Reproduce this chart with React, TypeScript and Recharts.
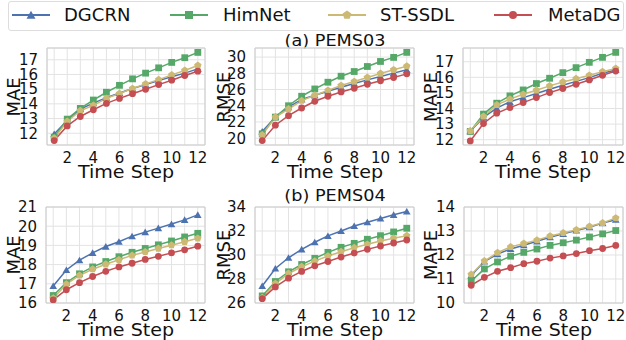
import React from 'react';
import { CartesianGrid, Line, LineChart, ReferenceArea, XAxis, YAxis } from 'recharts';

const steps = [1, 2, 3, 4, 5, 6, 7, 8, 9, 10, 11, 12];
const models = ['DGCRN', 'HimNet', 'ST-SSDL', 'MetaDG'];

// PEMS03
const mae03DGCRN = [11.95, 12.87, 13.64, 14.05, 14.42, 14.74, 15.04, 15.31, 15.58, 15.84, 16.09, 16.38];
const mae03HimNet = [11.73, 12.96, 13.69, 14.26, 14.79, 15.26, 15.7, 16.09, 16.45, 16.82, 17.14, 17.5];
const mae03STSSDL = [11.66, 12.8, 13.53, 13.9, 14.37, 14.7, 15.04, 15.36, 15.65, 15.97, 16.27, 16.61];
const mae03MetaDG = [11.5, 12.5, 13.14, 13.6, 14.03, 14.37, 14.69, 14.99, 15.31, 15.61, 15.93, 16.22];

const rmse03DGCRN = [20.83, 22.6, 23.84, 24.79, 25.29, 25.79, 26.28, 26.74, 27.19, 27.6, 28.02, 28.43];
const rmse03HimNet = [20.54, 22.6, 24.0, 25.17, 26.07, 26.9, 27.64, 28.22, 28.84, 29.46, 29.96, 30.58];
const rmse03STSSDL = [20.4, 22.6, 23.6, 24.63, 25.3, 25.9, 26.49, 26.98, 27.48, 27.98, 28.43, 28.88];
const rmse03MetaDG = [19.7, 21.6, 22.77, 23.72, 24.55, 25.17, 25.7, 26.16, 26.65, 27.07, 27.48, 27.93];

const mape03DGCRN = [12.55, 13.43, 14.02, 14.43, 14.7, 14.96, 15.23, 15.49, 15.74, 15.98, 16.26, 16.47];
const mape03HimNet = [12.53, 13.64, 14.34, 14.81, 15.19, 15.6, 15.94, 16.3, 16.62, 16.96, 17.28, 17.6];
const mape03STSSDL = [12.57, 13.49, 14.23, 14.6, 14.91, 15.17, 15.45, 15.7, 15.91, 16.13, 16.36, 16.57];
const mape03MetaDG = [11.92, 13.04, 13.7, 14.06, 14.38, 14.7, 15.02, 15.28, 15.55, 15.83, 16.13, 16.4];

// PEMS04
const mae04DGCRN = [16.89, 17.72, 18.23, 18.61, 18.94, 19.19, 19.48, 19.69, 19.9, 20.11, 20.33, 20.59];
const mae04HimNet = [16.39, 17.06, 17.52, 17.88, 18.16, 18.41, 18.64, 18.84, 19.03, 19.23, 19.44, 19.63];
const mae04STSSDL = [16.25, 16.98, 17.44, 17.76, 18.02, 18.25, 18.48, 18.66, 18.84, 19.01, 19.19, 19.37];
const mae04MetaDG = [16.16, 16.69, 17.06, 17.38, 17.65, 17.88, 18.07, 18.27, 18.43, 18.61, 18.77, 18.96];

const rmse04DGCRN = [27.42, 28.88, 29.77, 30.47, 31.06, 31.59, 32.0, 32.42, 32.73, 33.04, 33.35, 33.63];
const rmse04HimNet = [26.59, 27.79, 28.6, 29.21, 29.72, 30.22, 30.64, 30.97, 31.31, 31.61, 31.92, 32.23];
const rmse04STSSDL = [26.45, 27.62, 28.46, 29.02, 29.49, 29.91, 30.27, 30.61, 30.89, 31.17, 31.39, 31.61];
const rmse04MetaDG = [26.36, 27.34, 28.07, 28.63, 29.1, 29.46, 29.83, 30.16, 30.47, 30.75, 31.0, 31.25];

const mape04DGCRN = [11.15, 11.73, 12.04, 12.25, 12.41, 12.57, 12.74, 12.88, 13.02, 13.16, 13.33, 13.47];
const mape04HimNet = [10.91, 11.42, 11.71, 11.95, 12.11, 12.25, 12.4, 12.51, 12.62, 12.75, 12.88, 13.02];
const mape04STSSDL = [11.19, 11.75, 12.1, 12.34, 12.48, 12.62, 12.79, 12.92, 13.05, 13.19, 13.34, 13.54];
const mape04MetaDG = [10.74, 11.07, 11.32, 11.47, 11.64, 11.74, 11.87, 11.96, 12.06, 12.18, 12.27, 12.4];

const colors: Record<string, string> = {
  DGCRN: '#4C72B0',
  HimNet: '#55A868',
  'ST-SSDL': '#CCB974',
  MetaDG: '#C44E52',
};
const shapes: Record<string, string> = {
  DGCRN: 'triangle',
  HimNet: 'square',
  'ST-SSDL': 'pentagon',
  MetaDG: 'circle',
};

const FONT = '"DejaVu Sans", sans-serif';
const X_DOMAIN = [0.45, 12.55];

function Marker({ shape, color, cx, cy, r }: { shape: string; color: string; cx: number; cy: number; r: number }) {
  if (shape === 'circle') return <circle cx={cx} cy={cy} r={r} fill={color} />;
  if (shape === 'square') return <rect x={cx - r} y={cy - r} width={r * 2} height={r * 2} fill={color} />;
  const n = shape === 'triangle' ? 3 : 5;
  const rr = shape === 'triangle' ? r * 1.3 : r * 1.15;
  const pts = [];
  for (let i = 0; i < n; i++) {
    const a = -Math.PI / 2 + (i * 2 * Math.PI) / n;
    pts.push(`${cx + rr * Math.cos(a)},${cy + rr * Math.sin(a) + (n === 3 ? rr * 0.2 : 0)}`);
  }
  return <polygon points={pts.join(' ')} fill={color} />;
}

const makeDot = (name: string) => (p: any) => (
  <Marker key={`${name}-${p.index}`} shape={shapes[name]} color={colors[name]} cx={p.cx} cy={p.cy} r={3.4} />
);

// only even steps get a label, grid still on every step
function StepTick(props: any) {
  const { x, y, payload } = props;
  if (payload.value % 2 !== 0) return <g />;
  return (
    <text x={x} y={y} dy="0.71em" textAnchor="middle" fontSize={15} fill="#111" fontFamily={FONT}>
      {payload.value}
    </text>
  );
}

// centred html label, slightly widened like the source figure
function TextLabel({ x, y, size, sx = 1, rotate = false, children }: any) {
  return (
    <div
      style={{
        position: 'absolute',
        left: x,
        top: y,
        transform: rotate
          ? `translate(-50%, -50%) rotate(-90deg) scaleX(${sx})`
          : `translate(-50%, -50%) scaleX(${sx})`,
        fontSize: size,
        lineHeight: `${size}px`,
        fontFamily: FONT,
        color: '#111',
        whiteSpace: 'nowrap',
      }}
    >
      {children}
    </div>
  );
}

type Panel = {
  yLabel: string;
  ticks: number[];
  domain: number[];
  series: number[][];
  left: number;
  top: number;
  w: number;
  h: number;
  labelX: number;
};

const panels: Panel[] = [
  { yLabel: 'MAE', ticks: [12, 13, 14, 15, 16, 17], domain: [11.2, 17.8], series: [mae03DGCRN, mae03HimNet, mae03STSSDL, mae03MetaDG], left: 47, top: 48, w: 158, h: 97, labelX: 14 },
  { yLabel: 'RMSE', ticks: [20, 22, 24, 26, 28, 30], domain: [19.16, 31.12], series: [rmse03DGCRN, rmse03HimNet, rmse03STSSDL, rmse03MetaDG], left: 255, top: 48, w: 159, h: 97, labelX: 224 },
  { yLabel: 'MAPE', ticks: [12, 13, 14, 15, 16, 17], domain: [11.66, 17.88], series: [mape03DGCRN, mape03HimNet, mape03STSSDL, mape03MetaDG], left: 463, top: 48, w: 160, h: 97, labelX: 431 },
  { yLabel: 'MAE', ticks: [16, 17, 18, 19, 20, 21], domain: [16, 21], series: [mae04DGCRN, mae04HimNet, mae04STSSDL, mae04MetaDG], left: 46, top: 207, w: 159, h: 96, labelX: 14 },
  { yLabel: 'RMSE', ticks: [26, 28, 30, 32, 34], domain: [26, 34], series: [rmse04DGCRN, rmse04HimNet, rmse04STSSDL, rmse04MetaDG], left: 255, top: 207, w: 159, h: 96, labelX: 224 },
  { yLabel: 'MAPE', ticks: [10, 11, 12, 13, 14], domain: [10, 14], series: [mape04DGCRN, mape04HimNet, mape04STSSDL, mape04MetaDG], left: 464, top: 207, w: 159, h: 96, labelX: 431 },
];

const YW = 40;
const XH = 24;
const RM = 12;
const TM = 10;

function PanelChart({ p }: { p: Panel }) {
  const data = steps.map((s, i) => {
    const row: Record<string, number> = { step: s };
    models.forEach((m, k) => {
      row[m] = p.series[k][i];
    });
    return row;
  });
  return (
    <>
      <div style={{ position: 'absolute', left: p.left - YW, top: p.top - TM }}>
        <LineChart width={YW + p.w + RM} height={TM + p.h + XH} data={data} margin={{ top: TM, right: RM, bottom: 0, left: 0 }}>
          <CartesianGrid stroke="#e3e3e3" strokeWidth={1} />
          <XAxis
            dataKey="step"
            type="number"
            domain={X_DOMAIN}
            ticks={steps}
            interval={0}
            allowDataOverflow
            height={XH}
            tickLine={false}
            axisLine={false}
            tickMargin={1}
            tick={<StepTick />}
          />
          <YAxis
            type="number"
            domain={p.domain}
            ticks={p.ticks}
            interval={0}
            allowDataOverflow
            width={YW}
            tickLine={false}
            axisLine={false}
            tickMargin={3}
            tick={{ fontSize: 15, fill: '#111', fontFamily: FONT }}
          />
          <ReferenceArea x1={X_DOMAIN[0]} x2={X_DOMAIN[1]} y1={p.domain[0]} y2={p.domain[1]} fill="none" stroke="#cccccc" strokeWidth={1} />
          {models.map((m) => (
            <Line
              key={m}
              dataKey={m}
              stroke={colors[m]}
              strokeWidth={1.5}
              dot={makeDot(m)}
              activeDot={false}
              isAnimationActive={false}
            />
          ))}
        </LineChart>
      </div>
      <TextLabel x={p.labelX} y={p.top + p.h / 2} size={18} rotate>
        {p.yLabel}
      </TextLabel>
      <TextLabel x={p.left + p.w / 2} y={p.top + p.h + 26.5} size={18.5} sx={1.03}>
        Time Step
      </TextLabel>
    </>
  );
}

const legendEntries = [
  { name: 'DGCRN', x: 12, tx: 64 },
  { name: 'HimNet', x: 170, tx: 223 },
  { name: 'ST-SSDL', x: 328, tx: 380 },
  { name: 'MetaDG', x: 494, tx: 548 },
];

function LegendBox() {
  const ox = 9;
  return (
    <div
      style={{
        position: 'absolute',
        left: 8,
        top: 1,
        width: 614,
        height: 28,
        border: '1px solid #dddddd',
        borderRadius: 3,
      }}
    >
      <svg width={614} height={28} style={{ position: 'absolute', left: 0, top: 0 }}>
        {legendEntries.map((e) => (
          <g key={e.name}>
            <line x1={e.x - ox} x2={e.x + 38 - ox} y1={13} y2={13} stroke={colors[e.name]} strokeWidth={2} />
            <Marker shape={shapes[e.name]} color={colors[e.name]} cx={e.x + 19 - ox} cy={13} r={4} />
          </g>
        ))}
      </svg>
      {legendEntries.map((e) => (
        <div
          key={e.name}
          style={{
            position: 'absolute',
            left: e.tx - ox,
            top: 13,
            transform: 'translateY(-50%)',
            fontSize: 18,
            lineHeight: '20px',
            fontFamily: FONT,
            color: '#111',
            whiteSpace: 'nowrap',
          }}
        >
          {e.name}
        </div>
      ))}
    </div>
  );
}

export default function App() {
  return (
    <div style={{ position: 'absolute', left: 0, top: 0, width: 626, height: 340, background: '#fff', overflow: 'hidden' }}>
      <LegendBox />
      <TextLabel x={334.5} y={41} size={16.5} sx={1.07}>
        (a) PEMS03
      </TextLabel>
      <TextLabel x={334.5} y={196} size={16.5} sx={1.07}>
        (b) PEMS04
      </TextLabel>
      {panels.map((p, i) => (
        <PanelChart key={i} p={p} />
      ))}
    </div>
  );
}
